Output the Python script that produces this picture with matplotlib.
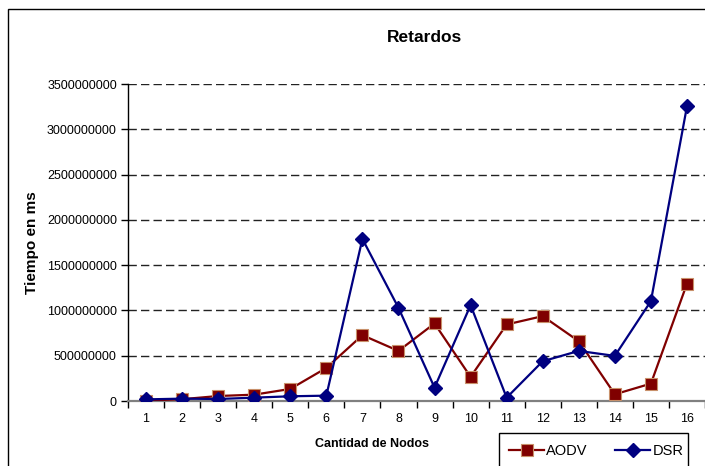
import matplotlib.pyplot as plt
from matplotlib.patches import Rectangle

plt.rcParams['font.family'] = ['Liberation Sans', 'DejaVu Sans']

nodos = list(range(1, 17))
aodv = [5e6, 20e6, 55e6, 70e6, 133e6, 365e6, 727e6, 553e6,
        856e6, 266e6, 845e6, 937e6, 660e6, 74e6, 192e6, 1295e6]
dsr = [18e6, 26e6, 22e6, 37e6, 52e6, 59e6, 1789e6, 1029e6,
       148e6, 1058e6, 37e6, 439e6, 553e6, 498e6, 1103e6, 3253e6]
yticks = [0, 500000000, 1000000000, 1500000000, 2000000000,
          2500000000, 3000000000, 3500000000]

W, H = 705, 466
fig = plt.figure(figsize=(W / 100, H / 100), dpi=100)
ax = fig.add_axes([128 / W, (H - 401) / H, (W - 128) / W, (401 - 84) / H])

# chart border (runs off the right and bottom)
fig.patches.append(Rectangle((8 / W, -0.1), 1.0, (H - 9) / H + 0.1,
                             transform=fig.transFigure, fill=False,
                             edgecolor='black', lw=1.0, clip_on=False))
# legend box, also cut off at the bottom
fig.patches.append(Rectangle((499 / W, -0.1), (688 - 499) / W, (H - 433) / H + 0.1,
                             transform=fig.transFigure, fill=False,
                             edgecolor='black', lw=1.0, clip_on=False))

for y in yticks[1:]:
    ax.axhline(y, color='#222222', lw=1.0, linestyle=(0, (6, 3)), zorder=1)

ax.plot(nodos, aodv, color='#800000', lw=1.6, marker='s', markersize=8,
        markerfacecolor='#800000', markeredgecolor='#c8906a',
        markeredgewidth=0.8, label='AODV', zorder=3)
ax.plot(nodos, dsr, color='#000080', lw=1.6, marker='D', markersize=7,
        markerfacecolor='#000080', markeredgecolor='#000080',
        label='DSR', zorder=4)

ax.set_xlim(0.5, 16.5)
ax.set_ylim(0, 3500000000)
ax.set_yticks(yticks)
ax.set_yticklabels([str(v) for v in yticks], fontsize=9)
ax.set_xticks(nodos)
ax.set_xticklabels([str(n) for n in nodos], fontsize=9)
ax.set_xticks([n + 0.5 for n in range(0, 17)], minor=True)
ax.tick_params(axis='x', which='major', length=0, pad=9)
ax.tick_params(axis='x', which='minor', length=5, width=1, color='black', direction='out')
ax.tick_params(axis='y', length=5, width=1, direction='out', pad=3)

for s in ['top', 'right']:
    ax.spines[s].set_visible(False)
ax.spines['left'].set_color('black')
ax.spines['left'].set_linewidth(1.0)
ax.spines['bottom'].set_color('#808080')
ax.spines['bottom'].set_linewidth(1.6)
ax.patch.set_alpha(0)

fig.text(424 / W, 1 - 38 / H, 'Retardos', ha='center', va='center',
         fontsize=12.5, fontweight='bold')
fig.text(32 / W, 1 - 243 / H, 'Tiempo en ms', ha='center', va='center',
         rotation=90, fontsize=11, fontweight='bold')
fig.text(372 / W, 1 - 444 / H, 'Cantidad de Nodos', ha='center', va='center',
         fontsize=9, fontweight='bold')

leg = fig.legend(loc='center left', bbox_to_anchor=(509 / W, 1 - 451 / H),
                 ncol=2, fontsize=10.5, frameon=False,
                 handlelength=2.4, handletextpad=0.15,
                 columnspacing=1.9, borderpad=0, borderaxespad=0)

fig.savefig('out.png', dpi=100)
